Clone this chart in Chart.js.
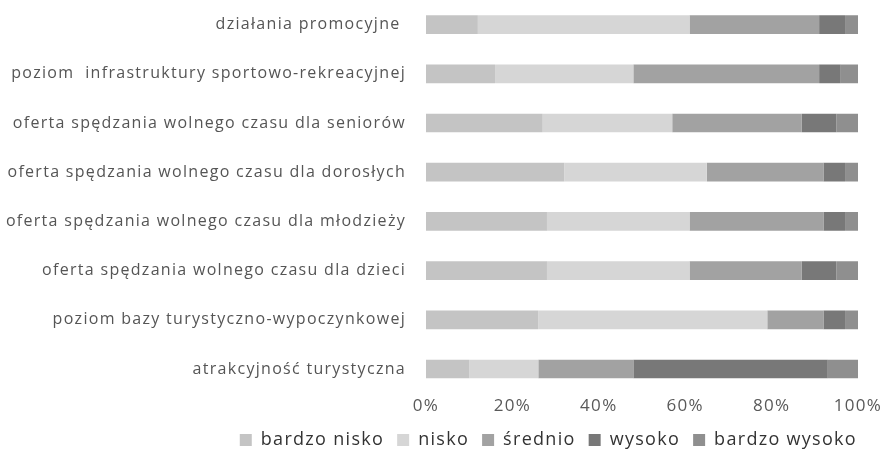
<!DOCTYPE html>
<html>
<head>
<meta charset="utf-8">
<script src="https://cdn.jsdelivr.net/npm/chart.js@4"></script>
<style>
  html, body { margin: 0; padding: 0; background: #fff; }
  #wrap { width: 888px; height: 466px; }
</style>
</head>
<body>
<div id="wrap"><canvas id="chart"></canvas></div>
<script>
// --- data (percent of answers per aspect) ---
const categories = [
    'działania promocyjne ',
    'poziom  infrastruktury sportowo-rekreacyjnej',
    'oferta spędzania wolnego czasu dla seniorów',
    'oferta spędzania wolnego czasu dla dorosłych',
    'oferta spędzania wolnego czasu dla młodzieży',
    'oferta spędzania wolnego czasu dla dzieci',
    'poziom bazy turystyczno-wypoczynkowej',
    'atrakcyjność turystyczna'
];
const seriesNames = ['bardzo nisko', 'nisko', 'średnio', 'wysoko', 'bardzo wysoko'];
const bardzoNisko  = [12, 16, 27, 32, 28, 28, 26, 10];
const nisko        = [49, 32, 30, 33, 33, 33, 53, 16];
const srednio      = [30, 43, 30, 27, 31, 26, 13, 22];
const wysoko       = [6, 5, 8, 5, 5, 8, 5, 45];
const bardzoWysoko = [3, 4, 5, 3, 3, 5, 3, 7];
const xTicks = ['0%', '20%', '40%', '60%', '80%', '100%'];

const colors = ['#c4c4c4', '#d6d6d6', '#a2a2a2', '#787878', '#8f8f8f'];
const values = [bardzoNisko, nisko, srednio, wysoko, bardzoWysoko];

const FONT = '"Open Sans", "Liberation Sans", sans-serif';

// the scanned original has wide, airy lettering
const spacing = {
    id: 'spacing',
    beforeUpdate(chart) { chart.ctx.letterSpacing = '1.3px'; },
    beforeDraw(chart) { chart.ctx.letterSpacing = '1.3px'; }
};

new Chart(document.getElementById('chart'), {
    type: 'bar',
    plugins: [spacing],
    data: {
        labels: categories,
        datasets: seriesNames.map((name, i) => ({
            label: name,
            data: values[i],
            backgroundColor: colors[i],
            borderWidth: 0,
            barPercentage: 0.38,
            categoryPercentage: 1.0,
        }))
    },
    options: {
        indexAxis: 'y',
        responsive: true,
        maintainAspectRatio: false,
        animation: false,
        layout: { padding: { top: 0, right: 18, bottom: 7, left: 0 } },
        plugins: {
            tooltip: { enabled: false },
            legend: {
                position: 'bottom',
                align: 'end',
                labels: {
                    color: '#333',
                    font: { family: FONT, size: 18 },
                    boxWidth: 12,
                    boxHeight: 12,
                    padding: 13,
                }
            }
        },
        scales: {
            x: {
                stacked: true,
                min: 0,
                max: 100,
                grid: { display: false, drawTicks: false },
                border: { display: false },
                afterFit: (scale) => { scale.paddingRight = 30; },
                ticks: {
                    stepSize: 20,
                    padding: 2,
                    color: '#595959',
                    font: { family: FONT, size: 17 },
                    callback: (v, i) => xTicks[i]
                }
            },
            y: {
                stacked: true,
                grid: { display: false, drawTicks: false },
                border: { display: false },
                afterFit: (scale) => {
                    scale.width = 426;
                    scale.paddingTop = 0;
                    scale.paddingBottom = 0;
                },
                ticks: {
                    padding: 20,
                    color: '#555',
                    font: { family: FONT, size: 16 }
                }
            }
        }
    }
});
</script>
</body>
</html>
